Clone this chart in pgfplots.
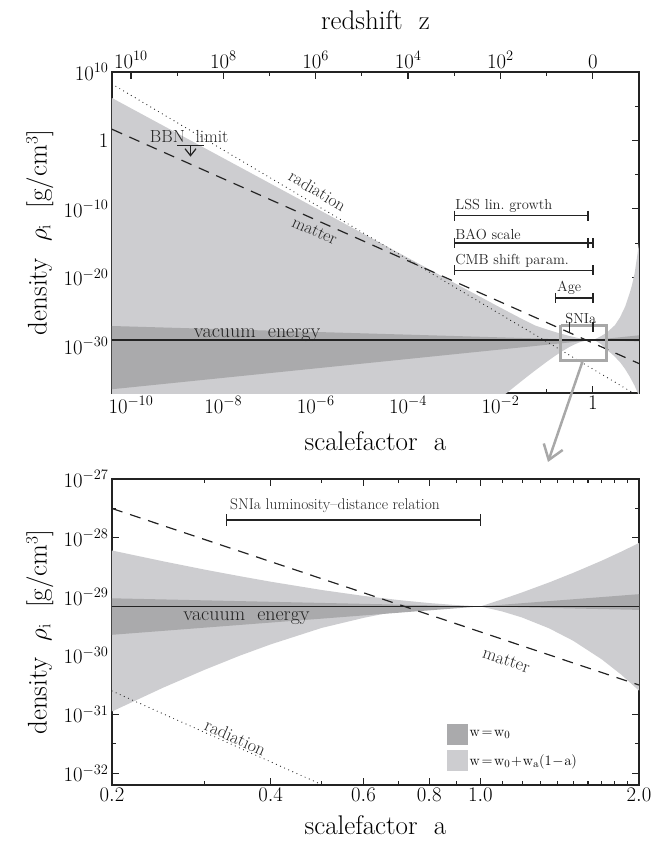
\documentclass[border=0pt]{standalone}
\usepackage{pgfplots}
\pgfplotsset{compat=1.18}
\usetikzlibrary{arrows.meta}
\definecolor{lgrey}{RGB}{205,205,208}
\definecolor{dgrey}{RGB}{170,170,172}
\definecolor{lineblk}{RGB}{35,35,35}
\definecolor{rectgrey}{RGB}{168,168,168}
\newcommand{\fs}[1]{\fontsize{#1}{#1}\selectfont}
\tikzset{
  dotl/.style={lineblk, line width=1.2pt, line cap=round, dash pattern=on 0pt off 4.5pt},
  dashl/.style={lineblk, line width=1.2pt, dash pattern=on 11pt off 8pt},
  vacl/.style={lineblk, line width=1.4pt},
}
\begin{document}
\begin{tikzpicture}[x=1pt,y=1pt]
\path[use as bounding box] (0,0) rectangle (655,844);

% ---------------- top panel ----------------
\begin{axis}[xmode=log, ymode=log, scale only axis,
  axis line style={lineblk, line width=1.6pt},
  every tick/.style={lineblk, line width=1.2pt},
  major tick length=7pt, minor tick length=4pt, tick align=inside,
  ticklabel style={font=\fs{21}}, label style={font=\fs{27}},
  at={(112pt,451pt)}, anchor=south west, width=527pt, height=321pt,
  xmin=3.89e-11, xmax=10, ymin=1.259e-37, ymax=1e10,
  xtick={1e-10,1e-8,1e-6,1e-4,1e-2,1},
  xticklabels={$10^{-10}$,$10^{-8}$,$10^{-6}$,$10^{-4}$,$10^{-2}$,$1$},
  minor xtick={1e-9,1e-7,1e-5,1e-3,1e-1},
  ytick={1e10,1,1e-10,1e-20,1e-30},
  yticklabels={$10^{10}$,$1$,$10^{-10}$,$10^{-20}$,$10^{-30}$},
  minor ytick={1e5,1e-5,1e-15,1e-25,1e-35},
  xlabel={scalefactor\ \ a},
  ylabel={density\ \ $\rho_{\mathrm{i}}$\ \ [g/cm$^{3}$]},
  xlabel style={at={(axis description cs:0.5,-0.15)}, anchor=center},
  ylabel style={at={(axis description cs:-0.137,0.5)}, anchor=center},
]
\addplot[fill=lgrey, draw=none, forget plot] coordinates {
(3.89e-11,1.585e6) (1e-8,2.600e-3) (1e-6,1.334e-10) (1e-4,6.84e-18) (1e-3,1.549e-21)
(3.162e-3,2.399e-23) (1e-2,3.715e-25) (3.162e-2,6.31e-27) (5.623e-2,9.12e-28) (0.1,2.512e-28)
(0.1585,9.55e-29) (0.2,6.10e-29) (0.316,2.63e-29) (0.501,1.288e-29) (0.708,8.71e-30) (1,6.84e-30)
(1.2,1.175e-29) (1.5,2.512e-29) (2,8.13e-29) (3,1e-27) (3.85,1.259e-26) (5,5.012e-25)
(6.3,5.012e-23) (7,6.31e-22) (8,3.162e-20) (9,6.31e-18) (10,1e-15)
(10,3.98e-38) (9.4,1.259e-37) (8,1.585e-36) (6.3,3.162e-35) (5,3.98e-34) (4,3.162e-33)
(3,2.512e-32) (2.5,7.94e-32) (2,2.512e-31)
(1.5,1.778e-30) (1.2,4.467e-30) (1,6.84e-30) (0.9,6.84e-30) (0.8,6.61e-30) (0.7,5.754e-30)
(0.6,4.365e-30) (0.5,2.951e-30) (0.4,1.549e-30) (0.3,5.754e-31) (0.2,1.122e-31) (0.15,3.09e-32)
(0.1,4.467e-33) (0.05,1.318e-34) (0.03,8.91e-36) (0.02,1e-36) (0.0125,7.94e-38) (0.01,1e-38)
(3.89e-11,1e-38)
} -- cycle;
\addplot[fill=dgrey, draw=none, forget plot] coordinates {
(3.89e-11,7.76e-28) (1,6.84e-30) (10,3.35e-29) (10,4.365e-30) (1,6.84e-30) (3.89e-11,4.467e-37)
} -- cycle;
\addplot[dotl, forget plot] coordinates {(3.89e-11,1.747e8) (10,4e-38)};
\addplot[dashl, forget plot] coordinates {(3.89e-11,42.96) (10,2.53e-33)};
\addplot[vacl, forget plot] coordinates {(3.89e-11,6.84e-30) (10,6.84e-30)};
% BBN limit
\addplot[lineblk, line width=1.4pt, forget plot] coordinates {(1e-9,0.166) (3.8e-9,0.166)};
\addplot[lineblk, line width=1.2pt, -{Straight Barb[length=7pt,width=11pt]}, forget plot] coordinates {(1.95e-9,0.166) (1.95e-9,4.27e-3)};
\node[font=\fs{17.5}, anchor=base, lineblk] at (axis cs:1.82e-9,0.447) {BBN\ \ limit};
% probe ranges
\addplot[lineblk, line width=1.4pt, mark=|, mark size=5pt, forget plot] coordinates {(1e-3,1e-11) (0.78,1e-11)};
\addplot[lineblk, line width=1.4pt, mark=|, mark size=5pt, forget plot] coordinates {(1e-3,1e-15) (1,1e-15)};
\addplot[lineblk, line width=1.4pt, only marks, mark=|, mark size=5pt, forget plot] coordinates {(0.78,1e-15)};
\addplot[lineblk, line width=1.4pt, mark=|, mark size=5pt, forget plot] coordinates {(1e-3,1e-19) (1,1e-19)};
\addplot[lineblk, line width=1.4pt, mark=|, mark size=5pt, forget plot] coordinates {(0.155,1e-23) (1,1e-23)};
\addplot[lineblk, line width=1.4pt, mark=|, mark size=5pt, forget plot] coordinates {(0.31,6.31e-28) (1,6.31e-28)};
\node[font=\fs{14.5}, anchor=south west, inner sep=1pt, yshift=2pt, lineblk] at (axis cs:1e-3,1e-11) {LSS\ lin.\ growth};
\node[font=\fs{14.5}, anchor=south west, inner sep=1pt, yshift=2pt, lineblk] at (axis cs:1e-3,1e-15) {BAO\ scale};
\node[font=\fs{14.5}, anchor=south west, inner sep=1pt, yshift=2pt, lineblk] at (axis cs:1e-3,1e-19) {CMB\ shift\ param.};
\node[font=\fs{14.5}, anchor=south west, inner sep=1pt, yshift=2pt, lineblk] at (axis cs:0.16,1e-23) {Age};
\node[font=\fs{14.5}, anchor=south, inner sep=1pt, yshift=2pt, lineblk] at (axis cs:0.55,6.31e-28) {SNIa};
% labels on lines
\node[font=\fs{17.5}, inner sep=0pt, rotate=-30.7, lineblk] at (axis cs:1.1e-6,4.5e-8) {radiation};
\node[font=\fs{17.5}, inner sep=0pt, rotate=-24, lineblk] at (axis cs:0.95e-6,6.0e-14) {matter};
\node[font=\fs{20}, anchor=base, yshift=3pt, lineblk] at (axis cs:5.4e-8,6.84e-30) {vacuum\ \ energy};
% zoom box
\addplot[rectgrey, line width=3pt, forget plot] coordinates {(0.2,1e-27) (2,1e-27) (2,6.31e-33) (0.2,6.31e-33) (0.2,1e-27)};
\end{axis}

% redshift axis on top
\begin{axis}[at={(112pt,451pt)}, anchor=south west, width=527pt, height=321pt, scale only axis,
  xmode=log, xmin=3.89e-11, xmax=10, ymin=0, ymax=1,
  axis x line*=top, hide y axis, axis line style={draw=none},
  xtick={1e-10,1e-8,1e-6,1e-4,1e-2,1},
  xticklabels={$10^{10}$,$10^{8}$,$10^{6}$,$10^{4}$,$10^{2}$,$0$},
  major tick length=0pt, minor tick length=0pt,
  ticklabel style={font=\fs{21}},
  xlabel={redshift\ \ z}, label style={font=\fs{27}},
  xlabel style={at={(axis description cs:0.5,1.162)}, anchor=center},
]
\addplot[draw=none, forget plot] coordinates {(1e-5,0.5)};
\end{axis}

% ---------------- bottom panel ----------------
\begin{axis}[xmode=log, ymode=log, scale only axis,
  axis line style={lineblk, line width=1.6pt},
  every tick/.style={lineblk, line width=1.2pt},
  major tick length=7pt, minor tick length=4pt, tick align=inside,
  ticklabel style={font=\fs{21}}, label style={font=\fs{27}},
  at={(112pt,59pt)}, anchor=south west, width=527pt, height=306pt,
  xmin=0.2, xmax=2, ymin=6.31e-33, ymax=1e-27,
  xtick={0.2,0.4,0.6,0.8,1,2},
  xticklabels={$0.2$,$0.4$,$0.6$,$0.8$,$1.0$,$2.0$},
  minor xtick={0.3,0.5,0.7,0.9,1.1,1.2,1.3,1.4,1.5,1.6,1.7,1.8,1.9},
  ytick={1e-27,1e-28,1e-29,1e-30,1e-31,1e-32},
  yticklabels={$10^{-27}$,$10^{-28}$,$10^{-29}$,$10^{-30}$,$10^{-31}$,$10^{-32}$},
  minor ytick={3.162e-28,3.162e-29,3.162e-30,3.162e-31,3.162e-32},
  xlabel={scalefactor\ \ a},
  ylabel={density\ \ $\rho_{\mathrm{i}}$\ \ [g/cm$^{3}$]},
  xlabel style={at={(axis description cs:0.5,-0.13)}, anchor=center},
  ylabel style={at={(axis description cs:-0.137,0.5)}, anchor=center},
  legend style={at={(0.63,0.04)}, anchor=south west, draw=none, fill=none, font=\fs{15}, row sep=6pt},
  legend cell align=left,
]
\addplot[fill=lgrey, draw=none, forget plot] coordinates {
(0.2,6.10e-29) (0.25,4.0e-29) (0.3,2.884e-29) (0.35,2.228e-29) (0.4,1.80e-29) (0.5,1.300e-29)
(0.6,1.033e-29) (0.7,8.77e-30) (0.8,7.80e-30) (0.9,7.21e-30) (1,6.84e-30)
(1.1,9.04e-30) (1.2,1.183e-29) (1.35,1.746e-29) (1.5,2.541e-29) (1.7,4.10e-29) (1.85,5.82e-29) (2,8.18e-29)
(2,2.535e-31) (1.85,4.75e-31) (1.7,8.61e-31) (1.5,1.786e-30) (1.35,2.904e-30) (1.2,4.436e-30) (1.1,5.623e-30) (1,6.84e-30)
(0.9,6.84e-30) (0.8,6.61e-30) (0.7,5.754e-30) (0.6,4.365e-30) (0.5,2.951e-30) (0.4,1.549e-30)
(0.35,1.0e-30) (0.3,5.754e-31) (0.25,2.844e-31) (0.2,1.122e-31)
} -- cycle;
\addplot[fill=dgrey, draw=none, forget plot] coordinates {
(0.2,9.40e-30) (1,6.84e-30) (2,1.104e-29) (2,5.97e-30) (1,6.84e-30) (0.2,2.254e-30)
} -- cycle;
\addplot[dotl, forget plot] coordinates {(0.2,2.5e-31) (0.6,3.09e-33)};
\addplot[dashl, forget plot] coordinates {(0.2,3.16e-28) (2,3.16e-31)};
\addplot[vacl, forget plot] coordinates {(0.2,6.84e-30) (2,6.84e-30)};
\addplot[lineblk, line width=1.4pt, mark=|, mark size=6pt, forget plot] coordinates {(0.33,2.0e-28) (1,2.0e-28)};
\node[font=\fs{15.5}, anchor=south, inner sep=1pt, yshift=6pt, lineblk] at (axis cs:0.53,2.0e-28) {SNIa\ luminosity--distance\ relation};
\node[font=\fs{20}, anchor=base, yshift=-14pt, lineblk] at (axis cs:0.36,6.84e-30) {vacuum\ \ energy};
\node[font=\fs{18}, inner sep=0pt, rotate=-18.4, lineblk] at (axis cs:1.12,8.3e-31) {matter};
\node[font=\fs{18}, inner sep=0pt, rotate=-23.9, lineblk] at (axis cs:0.343,4.07e-32) {radiation};
\addlegendimage{legend image code/.code={\fill[dgrey] (0pt,-10pt) rectangle (20pt,10pt);}}
\addlegendentry{$\mathrm{w\!=\!w_0}$}
\addlegendimage{legend image code/.code={\fill[lgrey] (0pt,-10pt) rectangle (20pt,10pt);}}
\addlegendentry{$\mathrm{w\!=\!w_0\!+\!w_a(1\!-\!a)}$}
\end{axis}

\draw[rectgrey, line width=2.5pt, -{Straight Barb[length=14pt,width=20pt]}] (583,484) -- (548,382);
\end{tikzpicture}
\end{document}
